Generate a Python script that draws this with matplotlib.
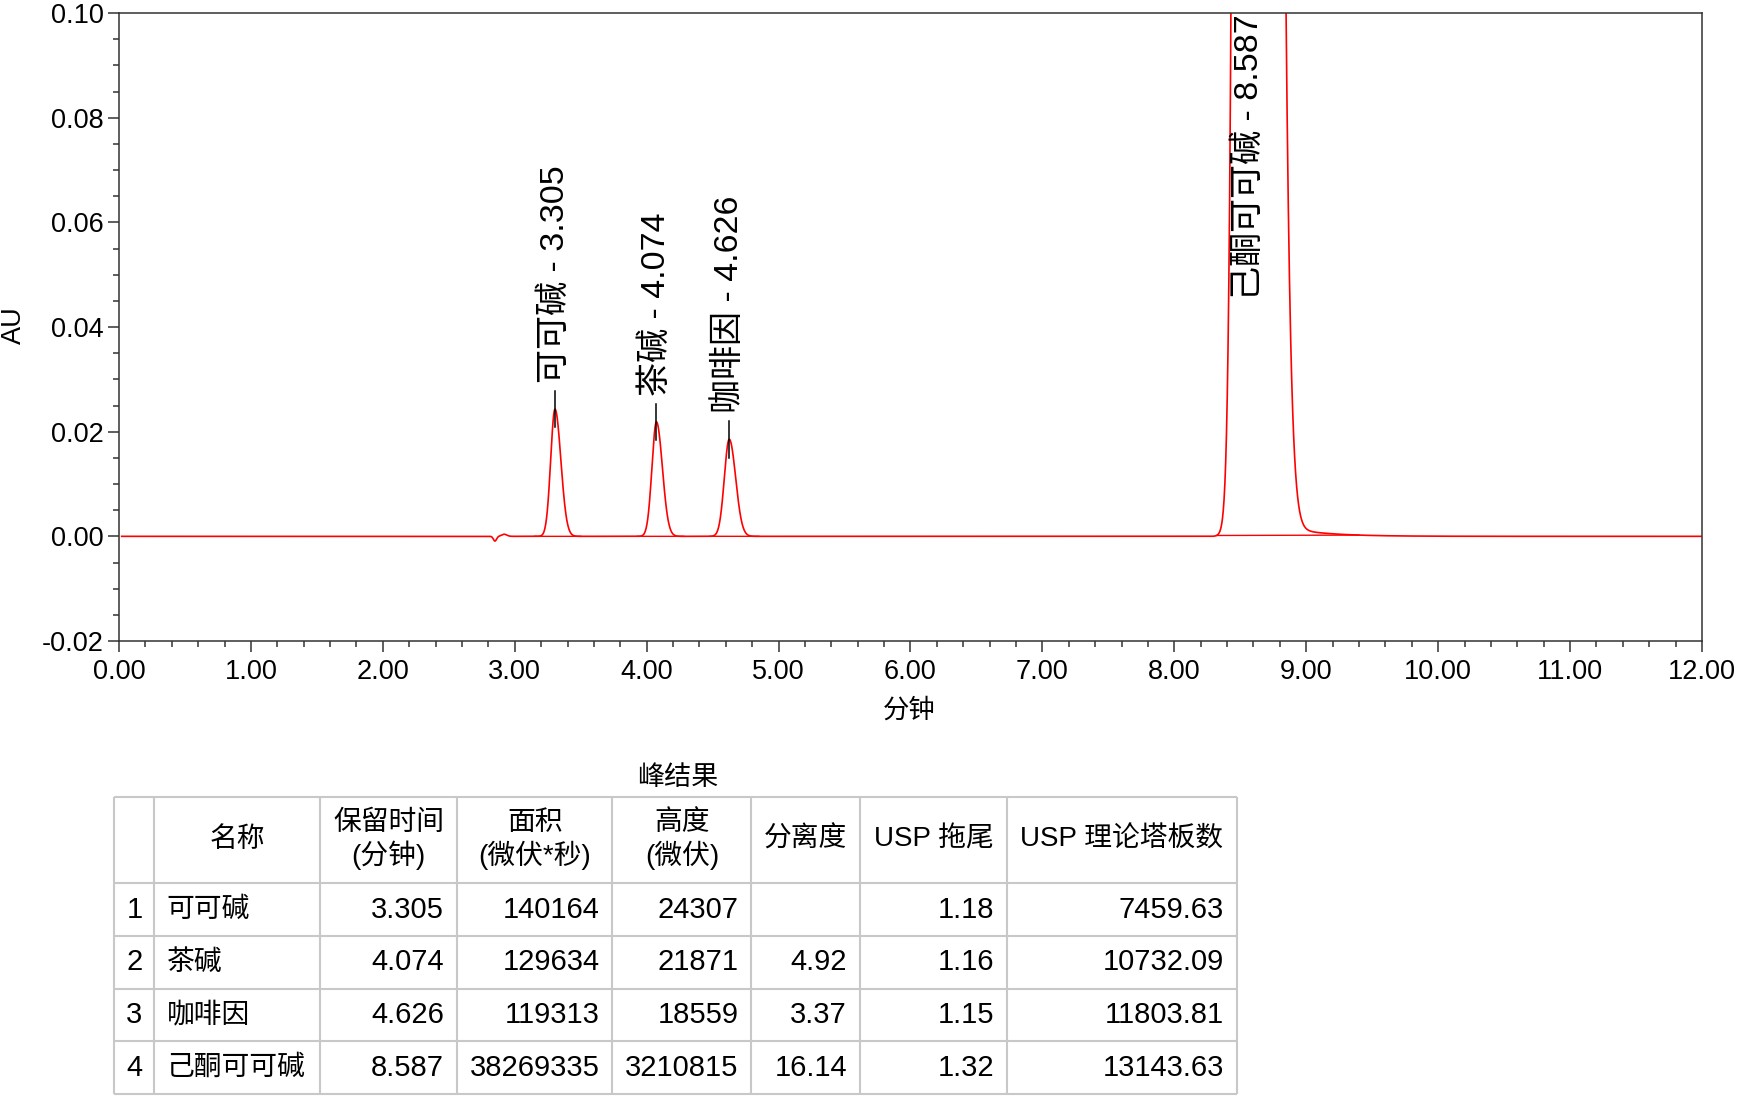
import numpy as np
import matplotlib.pyplot as plt
from matplotlib.ticker import MultipleLocator, FormatStrFormatter

plt.rcParams['font.family'] = ['Liberation Sans', 'Noto Sans CJK SC']
plt.rcParams['axes.unicode_minus'] = False

# peak results table
names = ["可可碱", "茶碱", "咖啡因", "己酮可可碱"]
ret_time = [3.305, 4.074, 4.626, 8.587]
area = [140164, 129634, 119313, 38269335]        # uV*s
height = [24307, 21871, 18559, 3210815]          # uV
resolution = [None, 4.92, 3.37, 16.14]
usp_tailing = [1.18, 1.16, 1.15, 1.32]
usp_plates = [7459.63, 10732.09, 11803.81, 13143.63]

# integration baseline start/end (min)
peak_start = [3.15, 3.93, 4.48, 8.32]
peak_end = [3.50, 4.28, 4.85, 9.40]

# small baseline disturbance before the first peak
blip_time = [2.85, 2.92]
blip_amp = [-0.0009, 0.0004]
blip_width = [0.012, 0.02]

# slow tail after the big peak: start, level at 8.96 min, decay (min)
tail_start = 8.7
tail_level = 0.00114
tail_tau = 0.28

headers = ["", "名称", "保留时间\n(分钟)", "面积\n(微伏*秒)", "高度\n(微伏)",
           "分离度", "USP 拖尾", "USP 理论塔板数"]

# build trace: bi-gaussian peaks from table height/area/tailing
t = np.linspace(0.02, 12.0, 8000)
signal = np.zeros_like(t)
for rt, a, h, tf in zip(ret_time, area, height, usp_tailing):
    sigma = a / (h * np.sqrt(2 * np.pi) * 60)
    s = np.where(t < rt, sigma / tf, sigma * (2 * tf - 1) / tf)
    signal += h / 1e6 * np.exp(-0.5 * ((t - rt) / s) ** 2)
for bt, ba, bw in zip(blip_time, blip_amp, blip_width):
    signal += ba * np.exp(-0.5 * ((t - bt) / bw) ** 2)
signal += np.where(t >= tail_start, tail_level * np.exp(-(t - 8.96) / tail_tau), 0)

W, H = 1743, 1099
fig = plt.figure(figsize=(W / 100, H / 100), dpi=100)
ax = fig.add_axes([119 / W, 1 - 641 / H, (1702 - 119) / W, (641 - 13) / H])

ax.plot(t, signal, color="#ff0000", lw=1.2)
for ps, pe in zip(peak_start, peak_end):
    ax.plot([ps, pe], [np.interp(ps, t, signal), np.interp(pe, t, signal)],
            color="#ff0000", lw=1.0)
ax.set_xlim(0, 12)
ax.set_ylim(-0.02, 0.10)

ax.xaxis.set_major_locator(MultipleLocator(1))
ax.xaxis.set_minor_locator(MultipleLocator(0.2))
ax.yaxis.set_major_locator(MultipleLocator(0.02))
ax.yaxis.set_minor_locator(MultipleLocator(0.005))
ax.xaxis.set_major_formatter(FormatStrFormatter("%.2f"))
ax.yaxis.set_major_formatter(FormatStrFormatter("%.2f"))
ax.tick_params(which="major", length=8, width=1.1, labelsize=19.5, color="#333333")
ax.tick_params(which="minor", length=4, width=1.1, color="#333333")
ax.tick_params(axis="x", which="major", pad=5)
ax.tick_params(axis="y", which="major", pad=3)
for sp in ax.spines.values():
    sp.set_linewidth(1.1)
    sp.set_color("#333333")

# peak labels
ymax = ax.get_ylim()[1]
for nm, rt, h in zip(names, ret_time, height):
    h_au = h / 1e6
    label = f"{nm} - {rt:.3f}"
    if h_au < ymax:
        ax.plot([rt, rt], [h_au - 0.0035, h_au + 0.0035], color="black", lw=1.1)
        ax.text(rt, h_au + 0.005, label, rotation=90, ha="center", va="bottom", fontsize=24.5)
    else:
        ax.text(rt - 0.02, ymax - 0.0003, label, rotation=90, ha="center", va="top", fontsize=24.5)

fig.text(909 / W, 1 - 710 / H, "分钟", ha="center", va="center", fontsize=19)
fig.text(14 / W, 1 - 325 / H, "AU", ha="center", va="center", rotation=90, fontsize=19.5)

# results table drawn in pixel coordinates
tax = fig.add_axes([0, 0, 1, 1])
tax.set_xlim(0, W)
tax.set_ylim(H, 0)
tax.axis("off")

col_x = [114.5, 154.5, 320, 457, 612.5, 751.5, 860, 1007, 1237]
row_y = [797, 883, 936, 989, 1041, 1094]
grid_c = "#c8c8c8"
tax.hlines(row_y, col_x[0], col_x[-1], color=grid_c, lw=1.5)
tax.vlines(col_x, row_y[0], row_y[-1], color=grid_c, lw=1.5)

tax.text(678, 778, "峰结果", ha="center", va="center", fontsize=19.5)

hy = (row_y[0] + row_y[1]) / 2
for i, hd in enumerate(headers):
    cx = (col_x[i] + col_x[i + 1]) / 2
    tax.text(cx, hy, hd, ha="center", va="center", fontsize=20, linespacing=1.2)

pad = 13
for r in range(len(names)):
    cy = (row_y[r + 1] + row_y[r + 2]) / 2
    vals = [f"{ret_time[r]:.3f}", f"{area[r]}", f"{height[r]}",
            "" if resolution[r] is None else f"{resolution[r]:.2f}",
            f"{usp_tailing[r]:.2f}", f"{usp_plates[r]:.2f}"]
    tax.text((col_x[0] + col_x[1]) / 2, cy, str(r + 1), ha="center", va="center", fontsize=21)
    tax.text(col_x[1] + 12, cy, names[r], ha="left", va="center", fontsize=20)
    for k, v in enumerate(vals):
        tax.text(col_x[k + 3] - pad, cy, v, ha="right", va="center", fontsize=21)

fig.savefig("out.png", dpi=100)
